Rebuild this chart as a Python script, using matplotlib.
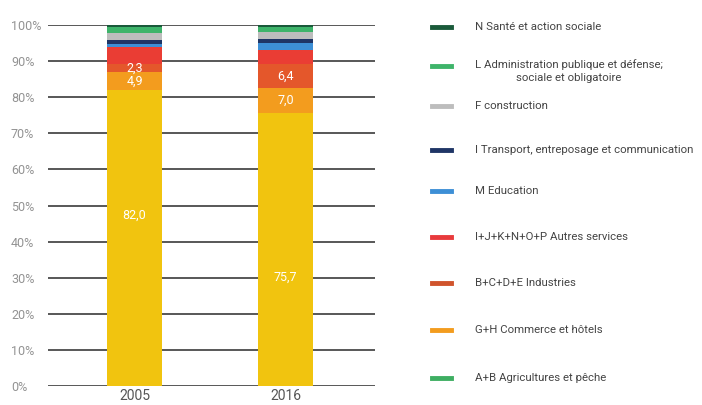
import matplotlib.pyplot as plt
from matplotlib.lines import Line2D

plt.rcParams['font.family'] = ['Roboto', 'DejaVu Sans']

years = ['2005', '2016']

# sectors from bottom of the stack to the top
sectors = [
    'A+B Agricultures et pêche',
    'G+H Commerce et hôtels',
    'B+C+D+E Industries',
    'I+J+K+N+O+P Autres services',
    'M Education',
    'I Transport, entreposage et communication',
    'F construction',
    'L Administration publique et défense;\nsociale et obligatoire',
    'N Santé et action sociale',
]
share_2005 = [82.0, 4.9, 2.3, 4.8, 0.8, 1.0, 1.9, 1.9, 0.4]
share_2016 = [75.7, 7.0, 6.4, 4.0, 1.9, 1.2, 2.0, 1.4, 0.4]

# labelled segments: (bar index, sector index)
labelled = [(0, 0), (0, 1), (0, 2), (1, 0), (1, 1), (1, 2)]

bar_colors = ['#F1C40F', '#F39C1E', '#E4572B', '#EA3D34', '#3D8FD6',
              '#1F3566', '#BDBDBD', '#3EB46A', '#1A5A3A']
legend_colors = ['#3EAE62', '#F39C1E', '#D0542C', '#E83A3C', '#3D8FD6',
                 '#1F3566', '#BDBDBD', '#3EB46A', '#1A5A3A']

fig = plt.figure(figsize=(7.02, 4.05), dpi=100)
ax = fig.add_axes([0.069, 0.0469, 0.465, 0.891])

shares = [share_2005, share_2016]
xs = range(len(years))
bottoms = [0.0, 0.0]
for k in range(len(sectors)):
    vals = [s[k] for s in shares]
    ax.bar(xs, vals, width=0.365, bottom=bottoms, color=bar_colors[k],
           zorder=3, linewidth=0)
    bottoms = [b + v for b, v in zip(bottoms, vals)]

# value labels; the big bottom values sit higher up in the segment
big_label_y = {0: 47.4, 1: 30.2}
for bi, si in labelled:
    vals = shares[bi]
    if si == 0:
        y = big_label_y[bi]
    else:
        y = sum(vals[:si]) + vals[si] / 2
    ax.text(bi, y, f'{vals[si]:.1f}'.replace('.', ','), ha='center',
            va='center', color='white', fontsize=9, zorder=4)

ax.set_xlim(-0.57, 1.59)
ax.set_ylim(0, 100)
ax.set_yticks(range(0, 101, 10))
ax.set_yticklabels([f'{t}%' for t in range(0, 101, 10)])
for lab in ax.get_yticklabels():
    lab.set_horizontalalignment('left')
ax.tick_params(axis='y', length=0, pad=27, labelsize=9, labelcolor='#939393')
ax.set_xticks(list(xs))
ax.set_xticklabels(years)
ax.tick_params(axis='x', length=0, pad=2, labelsize=10, labelcolor='#555555')
ax.grid(axis='y', color='#4a4a4a', linewidth=1.3, zorder=0)
for sp in ax.spines.values():
    sp.set_visible(False)

# legend drawn by hand, top entry first
legend_y_px = [378, 330, 283, 237, 191, 150, 106, 66, 27]
W, H = 702, 405
for k, label in enumerate(sectors):
    yf = 1 - legend_y_px[k] / H
    fig.add_artist(Line2D([432 / W, 451 / W], [yf, yf], color=legend_colors[k],
                          linewidth=3.5, transform=fig.transFigure))
    ty = yf - 5 / H if '\n' in label else yf
    fig.text(475 / W, ty, label, ha='left', va='center', multialignment='center',
             fontsize=8.2, color='#444444', linespacing=1.45)

fig.savefig('out.png', dpi=100)
